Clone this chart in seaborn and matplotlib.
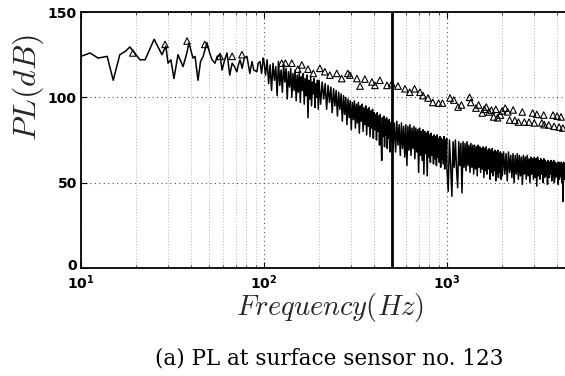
import numpy as np
import pandas as pd
import matplotlib
matplotlib.use("Agg")
import matplotlib.pyplot as plt
import matplotlib.transforms as mtransforms
import seaborn as sns
from matplotlib.ticker import FixedLocator, NullFormatter

sns.set_style("white")
plt.rcParams['font.family'] = ['DejaVu Sans']
plt.rcParams['mathtext.fontset'] = 'dejavusans'

# ---------------- data ----------------
# low-frequency part of the spectrum (irregular points)
f_low = [10, 11.2, 12.4, 13.9, 15, 16.3, 17.5, 18.5, 20, 21, 22.4, 25.1, 27.7,
         29.1, 29.9, 31, 32.2, 33.9, 36.1, 37.9, 38.9, 40.9, 42, 43.6, 45, 46.5,
         48.8, 50.5, 52, 54, 55.5, 57.5, 59, 61, 62.8, 65, 67, 69, 71, 72.5, 74,
         76, 78, 80.7, 83.7, 86, 88, 91.5, 93, 95.1, 97, 99]
pl_low = [124, 126, 123, 124, 110, 125, 127, 129.5, 125, 122, 122, 134, 125,
          130, 120, 122, 111, 125, 118, 126, 132, 123, 124, 110, 121, 124,
          132, 126, 122, 120, 124, 125, 116, 122, 126, 113, 120, 118, 115, 119, 122,
          117, 123, 124, 114, 121, 116, 115, 120, 121, 114, 123]

# spectrum bands on regular frequency bins: (start Hz, bin width Hz)
band_a = (100, 2)
pl_a = [121, 113, 122, 108, 119, 104, 120, 110, 118, 101,
        121, 107, 116, 103, 119, 109, 117, 99, 115, 106,
        117, 100, 114, 104, 116, 98, 113, 103, 115, 97,
        112, 104, 114, 96, 111, 101, 113, 88, 110, 99,
        112, 95, 109, 102, 111, 94, 108, 100, 110, 93]
band_b = (200, 4)
pl_b = [110, 96, 109, 99, 108, 93, 107, 97, 106, 91,
        105, 95, 104, 89, 103, 93, 102, 86, 101, 90,
        100, 84, 99, 88, 98, 81, 97, 87, 98, 82,
        96, 85, 97, 79, 95, 86, 96, 80, 94, 84,
        95, 78, 93, 83, 94, 77, 92, 82, 93, 76,
        91, 81, 90, 75, 91, 80, 89, 72, 90, 79,
        63, 88, 77, 89, 71, 87, 78, 88, 70, 86,
        76, 87, 68, 85, 74]
band_c = (500, 8)
pl_c = [86, 71, 85, 68, 86, 72, 84, 66, 85, 70,
        83, 65, 84, 60, 83, 69, 84, 66, 82, 70,
        83, 64, 82, 68, 81, 56, 82, 66, 80, 63,
        81, 55, 80, 67, 79, 54, 80, 65, 78, 62,
        79, 66, 77, 61, 78, 64, 77, 60, 78, 65,
        76, 62, 77, 59, 76, 64, 75, 61, 77, 58,
        75, 63, 76]
band_d = (1000, 16)
pl_d = [58, 45, 75, 60, 42, 74, 59, 75, 58, 47,
        74, 60, 73, 44, 74, 59, 73, 57, 74, 60,
        72, 56, 73, 59, 72, 55, 72, 58, 71, 54,
        72, 59, 71, 56, 70, 58, 71, 53, 70, 57,
        71, 55, 69, 58, 70, 52, 69, 56, 70, 54,
        68, 57, 69, 51, 68, 55, 69, 53, 67, 56,
        68, 52, 67]
band_e = (2008, 32)
pl_e = [54, 68, 55, 67, 51, 68, 56, 66, 53, 67,
        50, 66, 55, 67, 52, 66, 54, 65, 49, 66,
        55, 65, 52, 66, 54, 64, 50, 65, 55, 64,
        52, 65, 53, 64, 48, 65, 54, 63, 52, 64,
        55, 63, 50, 64, 53, 63, 54, 62, 49, 63,
        53, 62, 55, 63, 51, 62, 54, 63, 50, 62,
        53, 61, 55, 62, 49, 62, 52, 61, 54, 62,
        50, 61, 39, 62, 52, 61]

# triangle markers (peak levels)
tri_f = [19.2, 28.8, 38, 47.5, 57.5, 67, 75.8, 125, 131, 142, 153, 161, 174,
         186, 202, 215, 229, 250, 266, 287, 295, 322, 335, 356, 389, 404, 430,
         470, 500, 540, 590, 626, 665, 712, 740, 788, 837, 900, 945, 1040, 1090,
         1150, 1200, 1330, 1350, 1440, 1490, 1560, 1600, 1640, 1700, 1750, 1800,
         1850, 1890, 1960, 2000, 2080, 2150, 2200, 2300, 2350, 2460, 2580, 2650,
         2810, 2940, 3000, 3100, 3300, 3380, 3400, 3600, 3800, 3850, 4000, 4100,
         4200, 4300]
tri_pl = [126, 131, 133, 131, 124, 124, 125, 120, 120, 120, 116.5, 119, 116.5,
          114, 117, 115, 113, 114, 111, 114, 113, 111, 106.6, 110.7, 109, 107, 110,
          107, 108, 106.6, 105, 103, 105, 103, 101, 99.6, 97, 96.6, 96.6, 99.6, 98.4,
          94.3, 95.5, 100, 97, 93.7, 95.5, 90.8, 93, 94.3, 91.4, 92.5, 88.5,
          93, 88, 89.6, 92, 93.7, 91.5, 86.7, 92.6, 86.5, 85.5, 91.4, 85.5,
          85.5, 90.8, 85, 90, 85, 89.6, 84, 83.8, 89.6, 83, 89, 82.6,
          88.5, 82]

marker_freq = 500
x_ticks = [10, 100, 1000]
x_ticklabels = [r'$\mathbf{10^{1}}$', r'$\mathbf{10^{2}}$', r'$\mathbf{10^{3}}$']
y_ticks = [0, 50, 100, 150]
caption = '(a) PL at surface sensor no. 123'

# ---------------- build tables ----------------
def band_freq(band, vals):
    start, step = band
    return start + step * np.arange(len(vals))

freq = np.concatenate([np.array(f_low, float),
                       band_freq(band_a, pl_a), band_freq(band_b, pl_b),
                       band_freq(band_c, pl_c), band_freq(band_d, pl_d),
                       band_freq(band_e, pl_e)])
pl = np.concatenate([pl_low, pl_a, pl_b, pl_c, pl_d, pl_e]).astype(float)
df_line = pd.DataFrame({'Frequency': freq, 'PL': pl})
df_tri = pd.DataFrame({'Frequency': tri_f, 'PL': tri_pl})

# ---------------- figure ----------------
W, H = 565, 376
fig = plt.figure(figsize=(W / 100, H / 100), dpi=100)
ax = fig.add_axes([81 / W, 108 / H, 484 / W, 256 / H])
ax.set_xscale('log')

sns.lineplot(data=df_line, x='Frequency', y='PL', ax=ax, color='black',
             lw=1.1, estimator=None, sort=False, zorder=2)
sns.scatterplot(data=df_tri, x='Frequency', y='PL', ax=ax, marker='^', s=22,
                facecolor='none', edgecolor='black', linewidth=0.8, zorder=3)
ax.axvline(marker_freq, color='black', lw=2.0, zorder=4)

ax.set_xlim(10, 4417)
ax.set_ylim(0, 150)

ax.xaxis.set_major_locator(FixedLocator(x_ticks))
ax.set_xticklabels(x_ticklabels)
minor = [m * d for d in (10, 100, 1000) for m in range(2, 10) if m * d < 4417]
ax.xaxis.set_minor_locator(FixedLocator(minor))
ax.xaxis.set_minor_formatter(NullFormatter())
ax.set_yticks(y_ticks)
# the "0" label is drawn separately (slightly lifted) so it clears 10^1
ax.set_yticklabels(['' if v == 0 else str(v) for v in y_ticks])

for lab in ax.get_xticklabels() + ax.get_yticklabels():
    lab.set_fontsize(10)
    lab.set_fontweight('bold')
    lab.set_color('black')

zero_tr = mtransforms.offset_copy(ax.get_yaxis_transform(), fig=fig,
                                  x=-4, y=4, units='dots')
ax.text(0, y_ticks[0], str(y_ticks[0]), transform=zero_tr, ha='right',
        va='center_baseline', fontsize=10, fontweight='bold', color='black')

ax.set_axisbelow(True)
ax.grid(which='major', axis='both', linestyle=(0, (1, 3)), color='0.3', lw=0.8)
ax.grid(which='minor', axis='x', linestyle=(0, (1, 2)), color='0.7', lw=0.7)

ax.tick_params(which='major', direction='in', length=4, width=0.8,
               top=True, bottom=True, left=True, colors='black')
ax.tick_params(axis='x', which='major', pad=4)
ax.tick_params(axis='y', which='major', pad=3)
ax.tick_params(which='minor', direction='in', length=2, width=0.6,
               top=True, bottom=True)
for side in ('left', 'bottom', 'top'):
    ax.spines[side].set_linewidth(1.3)
    ax.spines[side].set_color('black')
ax.spines['right'].set_visible(False)
ax.set_xlabel('')
ax.set_ylabel('')

fig.text(28 / W, 1 - 88 / H, r'$PL(dB)$', rotation=90, fontsize=23,
         ha='center', va='center', math_fontfamily='cm')
fig.text(330 / W, 1 - 307 / H, r'$Frequency(Hz)$', fontsize=20.5,
         ha='center', va='center', math_fontfamily='cm')
fig.text(329 / W, 1 - 358 / H, caption, family='DejaVu Serif', fontsize=15.5,
         ha='center', va='center', color='black')

fig.savefig('out.png', dpi=100)
